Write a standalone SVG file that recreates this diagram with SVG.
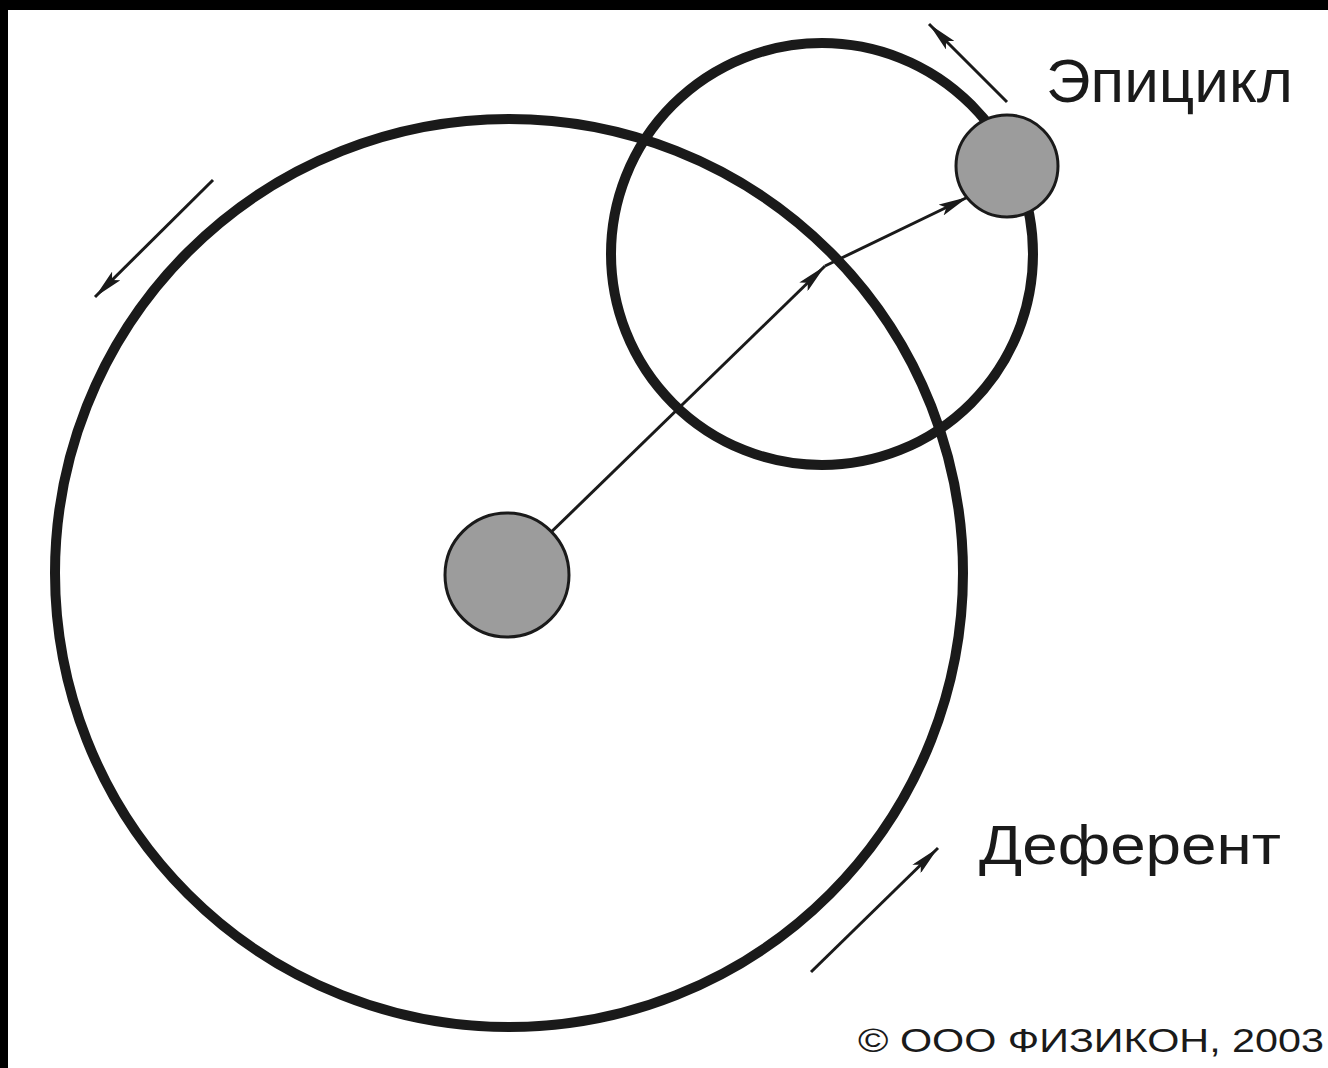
<svg xmlns="http://www.w3.org/2000/svg" width="1328" height="1068" viewBox="0 0 1328 1068">
<defs>
<style>
.orbit{fill:none;stroke:#1a1a1a;stroke-width:10}
.body{fill:#9c9c9c;stroke:#1a1a1a;stroke-width:3}
.ray{fill:none;stroke:#1a1a1a;stroke-width:3}
.lbl{font-family:"Liberation Sans",Arial,sans-serif;fill:#1a1a1a}
</style>
<marker id="ah" viewBox="0 0 30 12" refX="30" refY="6" markerWidth="30" markerHeight="12" markerUnits="userSpaceOnUse" orient="auto">
<path d="M0,0 L30,6 L0,12 L6,6 z" fill="#1a1a1a"/>
</marker>
</defs>
<rect x="0" y="0" width="1328" height="1068" fill="#000"/>
<rect x="8" y="10" width="1320" height="1058" fill="#fff"/>
<g id="deferent"><circle class="orbit" cx="509" cy="573" r="454"/></g>
<g id="epicycle"><circle class="orbit" cx="822" cy="254" r="211"/></g>
<g id="connectors">
<line class="ray" x1="507" y1="575" x2="825" y2="266" marker-end="url(#ah)"/>
<line class="ray" x1="825" y1="266" x2="968" y2="197" marker-end="url(#ah)"/>
<line class="ray" x1="213" y1="180" x2="95" y2="297" marker-end="url(#ah)"/>
<line class="ray" x1="811" y1="972" x2="938" y2="848" marker-end="url(#ah)"/>
<line class="ray" x1="1007" y1="102" x2="929" y2="24" marker-end="url(#ah)"/>
</g>
<g id="earth"><circle class="body" cx="507" cy="575" r="62"/></g>
<g id="planet"><circle class="body" cx="1007" cy="166" r="51"/></g>
<g id="label-epicycle"><text class="lbl" x="1046" y="102" font-size="61" textLength="247" lengthAdjust="spacingAndGlyphs">Эпицикл</text></g>
<g id="label-deferent"><text class="lbl" x="979" y="864" font-size="56" textLength="302" lengthAdjust="spacingAndGlyphs">Деферент</text></g>
<g id="copyright"><text class="lbl" x="858" y="1052" font-size="33" textLength="466" lengthAdjust="spacingAndGlyphs">© ООО ФИЗИКОН, 2003</text></g>
</svg>
